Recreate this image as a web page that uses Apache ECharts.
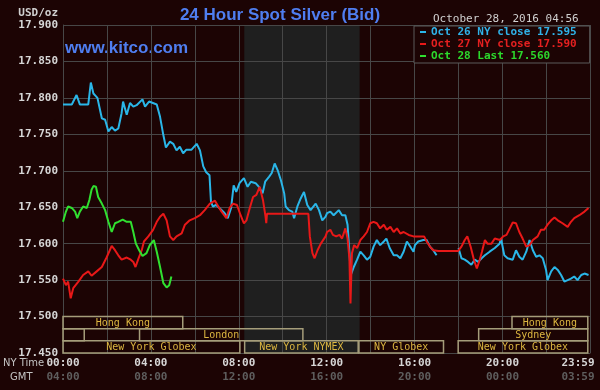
<!DOCTYPE html>
<html><head><meta charset="utf-8">
<script src="https://cdn.jsdelivr.net/npm/echarts/dist/echarts.min.js"></script>
<style>html,body{margin:0;padding:0;background:#1c0404}#c{width:600px;height:390px}</style>
</head><body><div id="c"></div>
<script>
// ---- data (x = minutes after 00:00 NY time, y = USD/oz) ----
const oct26 = [[0,17.791],[24,17.791],[37,17.804],[46,17.791],[69,17.791],[76,17.821],[83,17.806],[94,17.800],[106,17.772],[115,17.770],[124,17.754],[133,17.760],[142,17.755],[151,17.758],[160,17.779],[164,17.795],[174,17.777],[183,17.793],[192,17.788],[201,17.790],[217,17.798],[224,17.788],[235,17.795],[256,17.791],[265,17.774],[274,17.749],[281,17.732],[292,17.740],[301,17.737],[310,17.728],[319,17.733],[328,17.724],[337,17.729],[351,17.729],[365,17.737],[374,17.728],[383,17.706],[391,17.698],[400,17.694],[404,17.658],[409,17.651],[418,17.653],[427,17.649],[441,17.642],[450,17.635],[459,17.649],[466,17.680],[473,17.671],[482,17.683],[485,17.685],[494,17.690],[504,17.678],[513,17.685],[526,17.683],[535,17.678],[545,17.669],[552,17.685],[563,17.692],[570,17.697],[578,17.710],[586,17.701],[595,17.687],[604,17.669],[608,17.651],[617,17.646],[626,17.644],[631,17.635],[640,17.651],[649,17.662],[658,17.671],[667,17.653],[676,17.646],[690,17.655],[699,17.646],[708,17.632],[717,17.637],[721,17.642],[730,17.644],[739,17.639],[753,17.646],[762,17.639],[771,17.639],[777,17.626],[781,17.596],[786,17.557],[794,17.568],[803,17.578],[812,17.589],[821,17.584],[830,17.578],[839,17.582],[848,17.596],[857,17.605],[866,17.598],[876,17.603],[883,17.607],[892,17.594],[903,17.584],[912,17.584],[921,17.580],[930,17.589],[939,17.603],[948,17.596],[957,17.589],[961,17.598],[970,17.603],[984,17.605],[993,17.605],[1002,17.596],[1011,17.591],[1020,17.584],[1050,'-'],[1080,17.594],[1088,17.580],[1097,17.578],[1106,17.575],[1115,17.571],[1124,17.578],[1134,17.575],[1143,17.580],[1152,17.584],[1165,17.589],[1179,17.594],[1192,17.600],[1196,17.607],[1205,17.584],[1214,17.580],[1228,17.578],[1237,17.591],[1246,17.582],[1255,17.578],[1265,17.589],[1274,17.605],[1283,17.591],[1292,17.582],[1301,17.584],[1310,17.580],[1319,17.564],[1323,17.550],[1333,17.562],[1342,17.568],[1351,17.564],[1360,17.557],[1369,17.548],[1378,17.550],[1387,17.552],[1396,17.555],[1405,17.550],[1415,17.557],[1424,17.559],[1435,17.557]];

const oct27 = [[0,17.552],[8,17.543],[14,17.548],[21,17.525],[28,17.539],[42,17.548],[55,17.557],[69,17.562],[78,17.556],[92,17.562],[106,17.568],[119,17.581],[133,17.597],[142,17.591],[151,17.584],[160,17.578],[174,17.581],[185,17.578],[192,17.575],[198,17.568],[205,17.578],[215,17.591],[221,17.603],[233,17.610],[246,17.619],[256,17.630],[265,17.637],[274,17.641],[283,17.632],[292,17.610],[301,17.605],[310,17.610],[324,17.614],[333,17.626],[346,17.632],[360,17.635],[374,17.639],[387,17.646],[401,17.655],[415,17.659],[424,17.651],[433,17.644],[446,17.635],[455,17.649],[464,17.655],[475,17.653],[485,17.639],[494,17.628],[501,17.632],[510,17.649],[519,17.664],[528,17.667],[537,17.678],[546,17.660],[553,17.637],[555,17.628],[557,17.641],[670,17.641],[674,17.610],[681,17.587],[687,17.580],[695,17.591],[704,17.600],[717,17.610],[721,17.616],[730,17.619],[737,17.612],[746,17.610],[755,17.612],[762,17.607],[771,17.621],[777,17.607],[782,17.580],[785,17.518],[789,17.587],[795,17.598],[803,17.594],[812,17.605],[821,17.610],[830,17.616],[839,17.628],[848,17.630],[857,17.628],[866,17.621],[876,17.626],[884,17.619],[894,17.623],[903,17.616],[912,17.621],[921,17.614],[930,17.616],[944,17.612],[957,17.610],[970,17.610],[986,17.610],[993,17.603],[1002,17.596],[1011,17.591],[1025,17.590],[1079,17.590],[1088,17.596],[1097,17.605],[1104,17.610],[1113,17.596],[1122,17.578],[1130,17.566],[1138,17.578],[1144,17.589],[1152,17.605],[1159,17.600],[1170,17.600],[1179,17.607],[1193,17.605],[1202,17.610],[1211,17.612],[1220,17.621],[1228,17.629],[1237,17.628],[1246,17.616],[1255,17.607],[1265,17.596],[1274,17.598],[1283,17.605],[1296,17.610],[1305,17.619],[1314,17.619],[1323,17.626],[1333,17.632],[1342,17.636],[1351,17.632],[1364,17.628],[1378,17.623],[1387,17.630],[1396,17.635],[1410,17.639],[1424,17.644],[1435,17.649]];

const oct28 = [[0,17.630],[8,17.644],[14,17.651],[24,17.649],[33,17.644],[39,17.635],[46,17.644],[55,17.651],[65,17.649],[72,17.660],[78,17.674],[83,17.679],[90,17.678],[96,17.664],[106,17.655],[115,17.646],[124,17.630],[133,17.616],[142,17.628],[151,17.630],[163,17.633],[174,17.630],[185,17.630],[192,17.616],[199,17.600],[208,17.591],[217,17.583],[228,17.587],[237,17.598],[248,17.605],[256,17.589],[265,17.568],[274,17.546],[283,17.540],[290,17.543],[296,17.555]];

const seriesNames = ['Oct 26 NY close 17.595', 'Oct 27 NY close 17.590', 'Oct 28 Last 17.560'];

// trading sessions (minutes NY time) and row (0 top .. 2 bottom)
const sessionNames = ['Hong Kong', 'Hong Kong', '', 'London', 'Sydney', 'New York Globex', 'New York NYMEX', 'NY Globex', 'New York Globex'];
const sessionStart = [0, 1226, 0, 209, 1135, 0, 496, 808, 1079];
const sessionEnd   = [327, 1433, 58, 655, 1433, 483, 806, 1039, 1433];
const sessionRow   = [0, 0, 1, 1, 1, 2, 2, 2, 2];
const nymexShade = [495, 810];

// tick labels
const tickMinutes = [0, 240, 480, 720, 960, 1200, 1439];
const nyTickLabels = ['00:00', '04:00', '08:00', '12:00', '16:00', '20:00', '23:59'];
const gmtTickLabels = ['04:00', '08:00', '12:00', '16:00', '20:00', '00:00', '03:59'];

// ---- chart ----
const mono = '"DejaVu Sans Mono", monospace';
const Y_MIN = 17.45, Y_MAX = 17.9, ROWS_TOP = 17.5, ROW_SPAN = 0.05 / 3;
const chart = echarts.init(document.getElementById('c'), null, {renderer: 'canvas', width: 600, height: 390});

function tickFmt(labels) {
  return function (v) {
    const i = tickMinutes.indexOf(Math.round(v));
    if (i < 0) return '';
    return i === tickMinutes.length - 1 ? '{e|' + labels[i] + '}' : labels[i];
  };
}
function labelStyle(color) {
  return {
    margin: 5, color: color, fontFamily: mono, fontSize: 11, fontWeight: 'bold',
    rich: {e: {color: color, fontFamily: mono, fontSize: 11, fontWeight: 'bold', padding: [0, 24, 0, 0]}}
  };
}

const lineColors = ['#2ab6e8', '#e81818', '#30e030'];
const legendTextColors = ['#30b2e8', '#e42020', '#2cd82c'];
const gridColor = '#474747';

const option = {
  backgroundColor: '#1c0404',
  animation: false,
  grid: {left: 63, right: 10, top: 25, bottom: 37},
  xAxis: [
    Object.assign({type: 'value', min: 0, max: 1439, interval: 120,
      axisLine: {show: true, lineStyle: {color: gridColor}}, axisTick: {show: false},
      splitLine: {show: true, lineStyle: {color: gridColor, width: 1}}},
      {axisLabel: Object.assign(labelStyle('#d6d6d6'), {formatter: tickFmt(nyTickLabels)})}),
    Object.assign({type: 'value', min: 0, max: 1439, interval: 120, position: 'bottom', offset: 14,
      axisLine: {show: false}, axisTick: {show: false}, splitLine: {show: false}},
      {axisLabel: Object.assign(labelStyle('#5e5e5e'), {formatter: tickFmt(gmtTickLabels)})})
  ],
  yAxis: {
    type: 'value', min: Y_MIN, max: Y_MAX, interval: 0.05,
    axisLine: {show: true, lineStyle: {color: gridColor}}, axisTick: {show: false},
    splitLine: {show: true, lineStyle: {color: gridColor, width: 1}},
    axisLabel: {margin: 5, color: '#d6d6d6', fontFamily: mono, fontSize: 11, fontWeight: 'bold',
      formatter: v => v.toFixed(3)}
  },
  legend: {
    orient: 'vertical', left: 414, top: 26, padding: [0, 13, 1, 6], itemGap: 0,
    itemWidth: 6, itemHeight: 2, icon: 'rect', selectedMode: false,
    backgroundColor: '#1c0404', borderColor: '#5a5a5a', borderWidth: 1,
    textStyle: {fontFamily: mono, fontSize: 11, fontWeight: 'bold', lineHeight: 12},
    data: seriesNames.map((n, i) => ({name: n, textStyle: {color: legendTextColors[i]}}))
  },
  graphic: [
    {type: 'text', x: 280, y: 15, style: {text: '24 Hour Spot Silver (Bid)', fill: '#4f7ef0',
      font: 'bold 17px "Liberation Sans", Arial, sans-serif', align: 'center', verticalAlign: 'middle'}},
    {type: 'text', x: 65, y: 48, style: {text: 'www.kitco.com', fill: '#4f7ef0',
      font: 'bold 17px "Liberation Sans", Arial, sans-serif', align: 'left', verticalAlign: 'middle'}},
    {type: 'text', x: 433, y: 19, style: {text: 'October 28, 2016 04:56', fill: '#d0d0d0',
      font: '11px ' + mono, align: 'left', verticalAlign: 'middle'}},
    {type: 'text', x: 58, y: 13, style: {text: 'USD/oz', fill: '#d0d0d0',
      font: 'bold 11px ' + mono, align: 'right', verticalAlign: 'middle'}},
    {type: 'text', x: 3, y: 363.5, style: {text: 'NY Time', fill: '#c4c4c4',
      font: '10px "DejaVu Sans", sans-serif', align: 'left', verticalAlign: 'middle'}},
    {type: 'text', x: 10, y: 377.5, style: {text: 'GMT', fill: '#c4c4c4',
      font: '10px "DejaVu Sans", sans-serif', align: 'left', verticalAlign: 'middle'}}
  ],
  series: [
    {
      type: 'custom', z: -1, silent: true, clip: true,
      data: [[nymexShade[0], nymexShade[1]]],
      renderItem: (p, api) => {
        const a = api.coord([api.value(0), Y_MAX]);
        const b = api.coord([api.value(1), Y_MIN]);
        return {type: 'rect', shape: {x: a[0], y: a[1], width: b[0] - a[0], height: b[1] - a[1]},
          style: {fill: '#1f1f1f'}};
      }
    },
    {
      type: 'custom', z: 1, silent: true, clip: false,
      data: sessionStart.map((s, i) => [s, sessionEnd[i], sessionRow[i]]),
      renderItem: (p, api) => {
        const i = p.dataIndex;
        const r = api.value(2);
        const a = api.coord([api.value(0), ROWS_TOP - r * ROW_SPAN]);
        const b = api.coord([api.value(1), ROWS_TOP - (r + 1) * ROW_SPAN]);
        return {type: 'group', children: [
          {type: 'rect', shape: {x: a[0], y: a[1], width: b[0] - a[0], height: b[1] - a[1]},
            style: {fill: 'none', stroke: '#a59d7a', lineWidth: 1.5}},
          {type: 'text', style: {text: sessionNames[i], x: (a[0] + b[0]) / 2, y: (a[1] + b[1]) / 2 + 0.5,
            align: 'center', verticalAlign: 'middle', fill: '#dcb640', font: '10px ' + mono}}
        ]};
      }
    },
    {name: seriesNames[0], type: 'line', data: oct26, color: lineColors[0], symbol: 'none', showSymbol: false,
      connectNulls: false, lineStyle: {width: 2, color: lineColors[0]}, z: 3},
    {name: seriesNames[1], type: 'line', data: oct27, color: lineColors[1], symbol: 'none', showSymbol: false,
      lineStyle: {width: 2, color: lineColors[1]}, z: 4},
    {name: seriesNames[2], type: 'line', data: oct28, color: lineColors[2], symbol: 'none', showSymbol: false,
      lineStyle: {width: 2, color: lineColors[2]}, z: 5}
  ]
};
chart.setOption(option);
</script>
</body></html>
